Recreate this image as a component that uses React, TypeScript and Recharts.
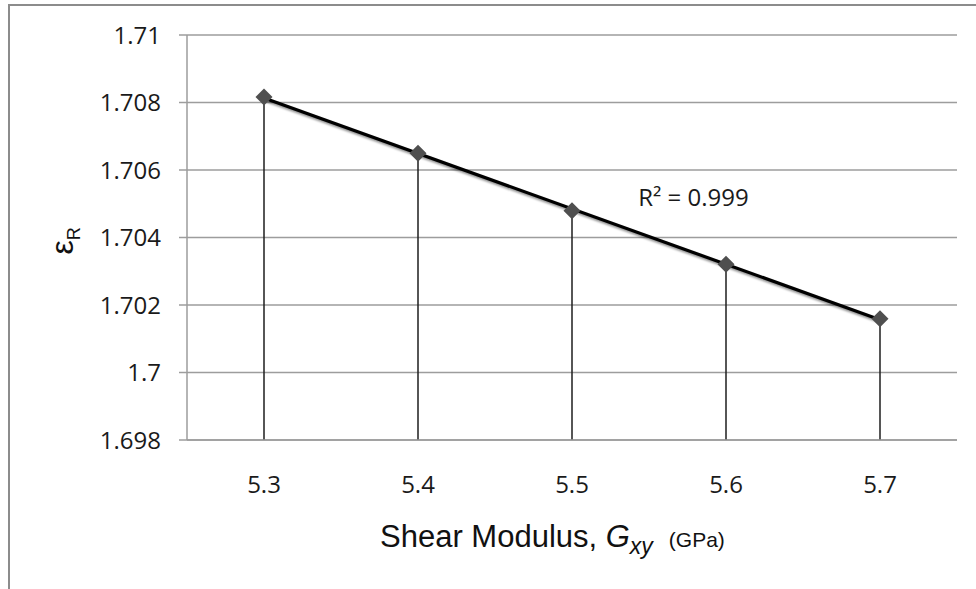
import {
  ComposedChart,
  Line,
  Scatter,
  XAxis,
  YAxis,
  CartesianGrid,
  ReferenceLine,
  ReferenceDot,
} from "recharts";

const shearModulus = [5.3, 5.4, 5.5, 5.6, 5.7];
const strainRatio = [1.70816, 1.7065, 1.70479, 1.70321, 1.70159];
const xTicks = [5.3, 5.4, 5.5, 5.6, 5.7];
const yTicks = [1.698, 1.7, 1.702, 1.704, 1.706, 1.708, 1.71];
const rSquaredLabel = "R\u00b2 = 0.999";
const rSquaredAt = { x: 5.543, y: 1.70517 };

const tickFont = "'Open Sans', sans-serif";
const titleFont = "'Liberation Sans', Arial, sans-serif";
const gridColor = "#9d9d9d";

const points = shearModulus.map((x, i) => ({ x, y: strainRatio[i] }));

// least-squares straight line through the points
function linearFit(xs: number[], ys: number[]) {
  const n = xs.length;
  const mx = xs.reduce((s, v) => s + v, 0) / n;
  const my = ys.reduce((s, v) => s + v, 0) / n;
  let sxy = 0;
  let sxx = 0;
  xs.forEach((x, i) => {
    sxy += (x - mx) * (ys[i] - my);
    sxx += (x - mx) * (x - mx);
  });
  const slope = sxy / sxx;
  return { slope, intercept: my - slope * mx };
}

const fit = linearFit(shearModulus, strainRatio);
const trend = [shearModulus[0], shearModulus[shearModulus.length - 1]].map(
  (x) => ({ x, y: fit.intercept + fit.slope * x })
);

const formatY = (v: number) => String(Number(v.toFixed(3)));

function Diamond(props: any) {
  const { cx, cy } = props;
  const r = 8.5;
  return (
    <path
      d={`M${cx},${cy - r}L${cx + r},${cy}L${cx},${cy + r}L${cx - r},${cy}Z`}
      fill="#4f4f4f"
    />
  );
}

function XTitle(props: any) {
  const { x, y } = props.viewBox;
  return (
    <text x={x + 193} y={y + 107} fontFamily={titleFont} fill="#111">
      <tspan fontSize={31}>Shear Modulus, </tspan>
      <tspan fontSize={31} fontStyle="italic">
        G
      </tspan>
      <tspan fontSize={23} fontStyle="italic" dy={7}>
        xy
      </tspan>
      <tspan fontSize={21} dy={-7} dx={16}>
        (GPa)
      </tspan>
    </text>
  );
}

function YTitle(props: any) {
  const { y, height } = props.viewBox;
  const tx = 73;
  const ty = y + height / 2 + 17;
  return (
    <text
      x={tx}
      y={ty}
      transform={`rotate(-90, ${tx}, ${ty})`}
      fontFamily={titleFont}
      fill="#111"
    >
      <tspan fontSize={32}>ε</tspan>
      <tspan fontSize={18} dy={7}>
        R
      </tspan>
    </text>
  );
}

function RSquared(props: any) {
  const { x, y } = props.viewBox;
  return (
    <text
      x={x}
      y={y}
      dy="0.35em"
      fontFamily={tickFont}
      fontSize={24}
      fill="#1a1a1a"
    >
      {rSquaredLabel}
    </text>
  );
}

export default function App() {
  return (
    <div style={{ position: "absolute", left: 0, top: 0, width: 976, height: 589 }}>
      <div
        style={{
          position: "absolute",
          left: 8,
          top: 4,
          width: 976,
          height: 600,
          borderTop: "2px solid #8c8c8c",
          borderLeft: "2px solid #8c8c8c",
        }}
      />
      <ComposedChart
        width={976}
        height={589}
        margin={{ top: 35, right: 19, left: 0, bottom: 89 }}
        style={{ position: "absolute", left: 0, top: 0 }}
      >
        <CartesianGrid
          vertical={false}
          stroke={gridColor}
          strokeWidth={1.5}
          horizontalValues={yTicks}
        />
        <XAxis
          type="number"
          dataKey="x"
          domain={[5.25, 5.75]}
          ticks={xTicks}
          tickLine={false}
          tickSize={0}
          tickMargin={36}
          height={60}
          axisLine={{ stroke: gridColor, strokeWidth: 1.5 }}
          tick={{ fill: "#1a1a1a", fontSize: 24, fontFamily: tickFont }}
          label={{ content: XTitle }}
        />
        <YAxis
          type="number"
          dataKey="y"
          domain={[yTicks[0], yTicks[yTicks.length - 1]]}
          ticks={yTicks}
          tickFormatter={formatY}
          width={187}
          tickSize={8}
          tickMargin={18}
          tickLine={{ stroke: gridColor, strokeWidth: 1.5 }}
          axisLine={{ stroke: gridColor, strokeWidth: 1.5 }}
          tick={{ fill: "#1a1a1a", fontSize: 24, fontFamily: tickFont }}
          label={{ content: YTitle }}
        />
        {points.map((p) => (
          <ReferenceLine
            key={p.x}
            segment={[
              { x: p.x, y: yTicks[0] },
              { x: p.x, y: p.y },
            ]}
            stroke="#1e1e1e"
            strokeWidth={1.5}
          />
        ))}
        <Scatter
          data={points}
          dataKey="y"
          shape={Diamond}
          isAnimationActive={false}
        />
        <Line
          data={trend}
          dataKey="y"
          type="linear"
          stroke="#000"
          strokeWidth={3.2}
          dot={false}
          activeDot={false}
          isAnimationActive={false}
          style={{ filter: "drop-shadow(1px 2px 1.2px rgba(0,0,0,0.45))" }}
        />
        <ReferenceDot
          x={rSquaredAt.x}
          y={rSquaredAt.y}
          r={0}
          fill="none"
          stroke="none"
          label={{ content: RSquared }}
        />
      </ComposedChart>
    </div>
  );
}
